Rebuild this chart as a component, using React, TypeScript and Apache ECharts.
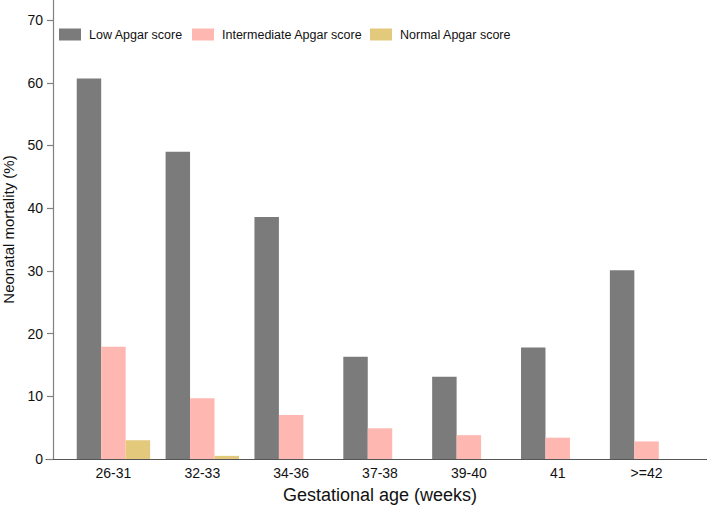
import React, { useEffect, useRef } from "react";
import * as echarts from "echarts";

const categories = ["26-31", "32-33", "34-36", "37-38", "39-40", "41", ">=42"];
const lowApgar = [60.7, 49.0, 38.6, 16.3, 13.1, 17.8, 30.1];
const intermediateApgar = [17.9, 9.7, 7.0, 4.9, 3.8, 3.4, 2.8];
const normalApgar = [3.0, 0.5, 0, 0, 0, 0, 0];
const yTicks = [0, 10, 20, 30, 40, 50, 60, 70];

const seriesNames = ["Low Apgar score", "Intermediate Apgar score", "Normal Apgar score"];
const seriesColors = ["#7b7b7b", "#ffb8b1", "#e3c97c"];
const legendLefts = [59, 192, 370];

export default function App() {
  const ref = useRef<HTMLDivElement>(null);
  useEffect(() => {
    if (!ref.current) return;
    const chart = echarts.init(ref.current, null, { renderer: "svg" });
    const font = "'Liberation Sans', Arial, Helvetica, sans-serif";
    const values = [lowApgar, intermediateApgar, normalApgar];
    chart.setOption({
      animation: false,
      backgroundColor: "#ffffff",
      textStyle: { fontFamily: font, color: "#111" },
      legend: seriesNames.map((n, i) => ({
        data: [n],
        left: legendLefts[i],
        top: 28,
        padding: 0,
        itemWidth: 22,
        itemHeight: 12,
        icon: "rect",
        textStyle: {
          fontFamily: font,
          fontSize: 12.5,
          color: "#111",
          padding: [0, 0, 0, 3],
        },
      })),
      grid: [
        { left: 69, right: 16, top: 0, bottom: 47, outerBoundsMode: "none", containLabel: false },
        { left: 46, right: 0, top: 0, bottom: 47, outerBoundsMode: "none", containLabel: false },
      ],
      xAxis: [
        {
          type: "category",
          gridIndex: 0,
          data: categories,
          axisLine: { show: false },
          axisTick: { show: false },
          axisLabel: { fontSize: 14, color: "#111", margin: 7, fontFamily: font },
          name: "Gestational age (weeks)",
          nameLocation: "middle",
          nameGap: 27,
          nameTextStyle: { fontSize: 18, color: "#111", fontFamily: font },
        },
        {
          type: "value",
          gridIndex: 1,
          min: 0,
          max: 1,
          axisLine: { show: true, lineStyle: { color: "#555", width: 1 } },
          axisTick: { show: false },
          axisLabel: { show: false },
          splitLine: { show: false },
        },
      ],
      yAxis: [
        {
          type: "value",
          gridIndex: 0,
          min: 0,
          max: 73.2,
          offset: 16,
          axisLine: { show: true, lineStyle: { color: "#808080", width: 1.2 } },
          axisTick: {
            show: true,
            inside: false,
            length: 6,
            lineStyle: { color: "#808080", width: 1.2 },
            customValues: yTicks,
          },
          axisLabel: {
            fontSize: 14,
            color: "#111",
            margin: 10,
            fontFamily: font,
            customValues: yTicks,
          },
          splitLine: { show: false },
          name: "Neonatal mortality (%)",
          nameLocation: "middle",
          nameGap: 37,
          nameTextStyle: { fontSize: 15, color: "#111", fontFamily: font },
        },
        { type: "value", gridIndex: 1, show: false, min: 0, max: 1 },
      ],
      series: seriesNames.map((n, i) => ({
        name: n,
        type: "bar",
        xAxisIndex: 0,
        yAxisIndex: 0,
        data: values[i],
        barGap: "0%",
        barCategoryGap: "17.4%",
        itemStyle: { color: seriesColors[i] },
      })),
    });
    return () => chart.dispose();
  }, []);
  return <div ref={ref} style={{ width: 707, height: 506, position: "absolute", left: 0, top: 0 }} />;
}
